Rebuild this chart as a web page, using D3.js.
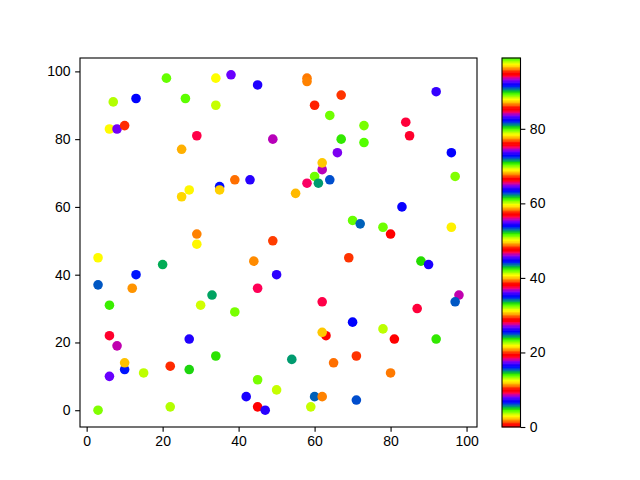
<!DOCTYPE html>
<html>
<head>
<meta charset="utf-8">
<script src="https://cdn.jsdelivr.net/npm/d3@7"></script>
<style>
  body { margin: 0; background: #fff; }
  #chart { width: 640px; height: 480px; }
  text { font-family: "Liberation Sans", Arial, sans-serif; }
</style>
</head>
<body>
<div id="chart"></div>
<script>
// point positions and colour values
const xValues = [21, 34, 38, 45, 7, 13, 26, 34, 6, 8, 10, 29, 25, 49, 35, 39, 43, 58, 58, 67,
    60, 64, 73, 73, 67, 84, 85, 92, 66, 96, 97, 62, 62, 60, 58, 61, 64, 25, 27, 35,
    29, 29, 49, 3, 20, 44, 50, 13, 3, 12, 45, 33, 6, 30, 55, 83, 70, 72, 78, 80,
    96, 69, 88, 90, 98, 97, 62, 87, 39, 6, 8, 27, 34, 10, 10, 6, 15, 22, 27, 45,
    50, 42, 45, 47, 3, 22, 70, 78, 63, 62, 81, 92, 54, 65, 71, 80, 60, 62, 71, 59];
const yValues = [98, 98, 99, 96, 91, 92, 92, 90, 83, 83, 84, 81, 77, 80, 66, 68, 68, 98, 97, 93,
    90, 87, 84, 79, 80, 85, 81, 94, 76, 76, 69, 71, 73, 69, 67, 67, 68, 63, 65, 65,
    52, 49, 50, 45, 43, 44, 40, 40, 37, 36, 36, 34, 31, 31, 64, 60, 56, 55, 54, 52,
    54, 45, 44, 43, 34, 32, 32, 30, 29, 22, 19, 21, 16, 12, 14, 10, 11, 13, 12, 9,
    6, 4, 1, 0, 0, 1, 26, 24, 22, 23, 21, 21, 15, 14, 16, 11, 4, 4, 3, 1];
const cValues = [61, 88, 8, 26, 98, 54, 80, 60, 69, 27, 20, 47, 2, 18, 35, 11, 45, 30, 49, 39,
    1, 42, 23, 99, 33, 66, 85, 83, 46, 73, 4, 65, 59, 89, 9, 81, 91, 97, 3, 78,
    96, 50, 58, 22, 43, 68, 17, 16, 72, 87, 28, 62, 14, 41, 21, 92, 61, 6, 42, 0,
    31, 86, 71, 7, 37, 25, 47, 66, 70, 85, 84, 26, 52, 16, 40, 55, 79, 67, 90, 23,
    60, 7, 76, 45, 4, 51, 54, 32, 19, 59, 38, 33, 81, 11, 86, 30, 6, 49, 44, 13];

const axisTicks = [0, 20, 40, 60, 80, 100];
const colorbarTicks = [0, 20, 40, 60, 80];

// matplotlib "prism" colormap, 256 levels
function prism(v) {
    const n = 256;
    const i = Math.max(0, Math.min(n - 1, Math.floor(v * n)));
    const x = i / (n - 1);
    const clip = a => Math.max(0, Math.min(1, a));
    const r = clip(0.75 * Math.sin((x * 20.9 + 0.25) * Math.PI) + 0.67);
    const g = clip(0.75 * Math.sin((x * 20.9 - 0.25) * Math.PI) + 0.33);
    const b = clip(-1.1 * Math.sin(x * 20.9 * Math.PI));
    return d3.rgb(r * 255, g * 255, b * 255).formatHex();
}

class ScatterColorbar {
    constructor(containerId) {
        this.containerId = containerId;
        this.data = xValues.map((x, i) => ({ x: x, y: yValues[i], c: cValues[i] }));
        this.initVis();
    }

    initVis() {
        const vis = this;
        vis.width = 640;
        vis.height = 480;
        vis.margin = { top: 58, right: 163, bottom: 53, left: 80 };
        vis.innerWidth = vis.width - vis.margin.left - vis.margin.right;
        vis.innerHeight = vis.height - vis.margin.top - vis.margin.bottom;

        vis.svg = d3.select("#" + vis.containerId)
            .append("svg")
            .attr("width", vis.width)
            .attr("height", vis.height);

        vis.g = vis.svg.append("g")
            .attr("transform", `translate(${vis.margin.left},${vis.margin.top})`);

        // matplotlib style 5% margins
        const pad = ext => { const m = (ext[1] - ext[0]) * 0.05; return [ext[0] - m, ext[1] + m]; };
        vis.x = d3.scaleLinear().domain(pad(d3.extent(xValues))).range([0, vis.innerWidth]);
        vis.y = d3.scaleLinear().domain(pad(d3.extent(yValues))).range([vis.innerHeight, 0]);
        vis.color = d3.scaleSequential(prism).domain(d3.extent(cValues));

        this.render();
    }

    render() {
        const vis = this;
        const tickLen = 4.86;

        vis.g.selectAll("circle")
            .data(vis.data)
            .join("circle")
            .attr("cx", d => vis.x(d.x))
            .attr("cy", d => vis.y(d.y))
            .attr("r", 4.8)
            .attr("fill", d => vis.color(d.c));

        const xAxis = vis.g.append("g")
            .attr("transform", `translate(0,${vis.innerHeight})`)
            .call(d3.axisBottom(vis.x).tickValues(axisTicks).tickSize(tickLen).tickPadding(4.5));
        const yAxis = vis.g.append("g")
            .call(d3.axisLeft(vis.y).tickValues(axisTicks).tickSize(tickLen).tickPadding(4.5));

        [xAxis, yAxis].forEach(a => {
            a.select(".domain").remove();
            a.selectAll("line").attr("stroke", "#000").attr("stroke-width", 1.1);
            a.selectAll("text").attr("font-size", 14).attr("fill", "#000")
                .attr("font-family", "Liberation Sans, Arial, sans-serif");
        });

        vis.g.append("rect")
            .attr("width", vis.innerWidth)
            .attr("height", vis.innerHeight)
            .attr("fill", "none")
            .attr("stroke", "#000")
            .attr("stroke-width", 1.1);

        // colorbar
        const cbX = 502, cbW = 18.5;
        const cbY = d3.scaleLinear().domain(vis.color.domain())
            .range([vis.margin.top + vis.innerHeight, vis.margin.top]);
        const cb = vis.svg.append("g");
        const levels = d3.range(256);
        const [c0, c1] = vis.color.domain();
        cb.selectAll("rect.band")
            .data(levels)
            .join("rect")
            .attr("class", "band")
            .attr("x", cbX)
            .attr("width", cbW)
            .attr("y", i => cbY(c0 + (i + 1) / 256 * (c1 - c0)) - 0.3)
            .attr("height", i => cbY(c0 + i / 256 * (c1 - c0)) - cbY(c0 + (i + 1) / 256 * (c1 - c0)) + 0.6)
            .attr("fill", i => prism((i + 0.5) / 256));

        cb.append("rect")
            .attr("x", cbX)
            .attr("y", vis.margin.top)
            .attr("width", cbW)
            .attr("height", vis.innerHeight)
            .attr("fill", "none")
            .attr("stroke", "#000")
            .attr("stroke-width", 1.1);

        const cbAxis = vis.svg.append("g")
            .attr("transform", `translate(${cbX + cbW},0)`)
            .call(d3.axisRight(cbY).tickValues(colorbarTicks).tickSize(tickLen).tickPadding(4.5));
        cbAxis.select(".domain").remove();
        cbAxis.selectAll("line").attr("stroke", "#000").attr("stroke-width", 1.1);
        cbAxis.selectAll("text").attr("font-size", 14).attr("fill", "#000")
            .attr("font-family", "Liberation Sans, Arial, sans-serif");
    }
}

new ScatterColorbar("chart");
</script>
</body>
</html>
